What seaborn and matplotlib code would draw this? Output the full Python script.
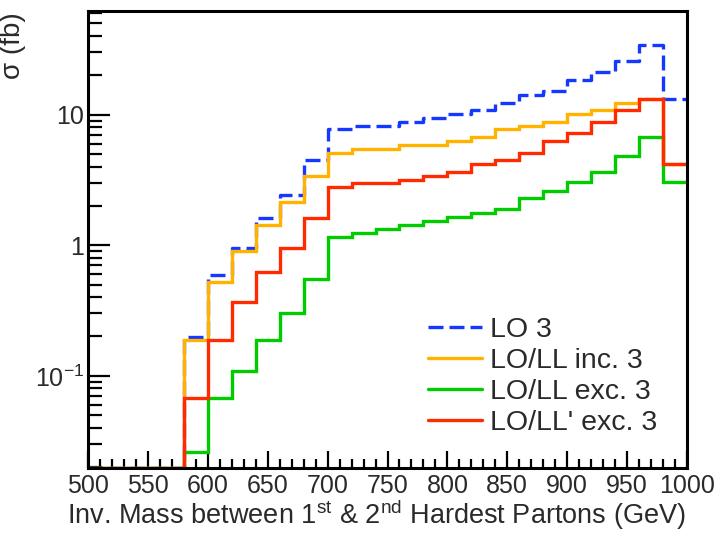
import numpy as np
import pandas as pd
import matplotlib
matplotlib.use("Agg")
import matplotlib.pyplot as plt
import seaborn as sns
from matplotlib.ticker import LogLocator, FixedLocator, FixedFormatter, MultipleLocator

# ---- data (bin width 20 GeV, 500..1000) ----
bin_edges = list(range(500, 1001, 20))
lo3 = [0, 0, 0, 0, 0.199, 0.59, 0.95, 1.61, 2.43, 4.48, 7.7, 8.2, 8.2, 8.8, 9.44,
       10.1, 10.9, 12.3, 14.2, 15.2, 18.4, 21.2, 25.9, 34.2, 13.2]
loll_inc3 = [0, 0, 0, 0, 0.187, 0.518, 0.895, 1.42, 2.13, 3.40, 5.09, 5.46, 5.46, 5.86, 5.86,
             6.29, 6.75, 7.73, 8.2, 8.8, 10.1, 10.9, 12.3, 13.2, 4.19]
loll_exc3 = [0, 0, 0, 0, 0.026, 0.068, 0.108, 0.187, 0.30, 0.55, 1.16, 1.24, 1.33, 1.42, 1.52,
             1.63, 1.75, 1.88, 2.28, 2.60, 3.02, 3.64, 4.8, 6.75, 3.02]
lollp_exc3 = [0, 0, 0, 0, 0.068, 0.187, 0.368, 0.625, 0.95, 1.61, 2.79, 3.0, 3.0, 3.18, 3.40,
              3.64, 4.19, 4.5, 5.09, 6.29, 7.24, 8.8, 10.9, 13.2, 4.19]
labels = ["LO 3", "LO/LL inc. 3", "LO/LL exc. 3", "LO/LL' exc. 3"]
xticks = [500, 550, 600, 650, 700, 750, 800, 850, 900, 950, 1000]
yticks = [0.1, 1, 10]
yticklabels = ["10$^{-1}$", "1", "10"]

YMIN, YMAX = 0.0197, 62

sns.set_style("ticks")
plt.rcParams["font.family"] = ["Liberation Sans", "DejaVu Sans"]
plt.rcParams["mathtext.fontset"] = "custom"
plt.rcParams["mathtext.rm"] = "Liberation Sans"
plt.rcParams["mathtext.it"] = "Liberation Sans"

fig = plt.figure(figsize=(7.2, 5.34), dpi=100)
ax = fig.add_axes([88/720, 1-468/534, (687-88)/720, (468-11)/534])

txt = "#2a2a2a"
series = [
    (lo3, "#1438FF", (0, (4.5, 1.8))),
    (loll_inc3, "#FFB300", "-"),
    (loll_exc3, "#00CC00", "-"),
    (lollp_exc3, "#FF2A00", "-"),
]
edges = np.array(bin_edges, dtype=float)
for (vals, col, ls), lab in zip(series, labels):
    v = np.array(vals, dtype=float)
    v = np.where(v > 0, v, YMIN)
    y = np.append(v, v[-1])
    df = pd.DataFrame({"x": edges, "y": y})
    sns.lineplot(data=df, x="x", y="y", ax=ax, color=col, linestyle=ls,
                 linewidth=2.4, drawstyle="steps-post", estimator=None,
                 label=lab, solid_joinstyle="miter")

ax.set_yscale("log")
ax.set_xlim(500, 1000)
ax.set_ylim(YMIN, YMAX)

ax.xaxis.set_major_locator(FixedLocator(xticks))
ax.xaxis.set_minor_locator(MultipleLocator(10))
ax.yaxis.set_major_locator(FixedLocator(yticks))
ax.yaxis.set_major_formatter(FixedFormatter(yticklabels))
ax.yaxis.set_minor_locator(LogLocator(base=10, subs=np.arange(2, 10)))
ax.yaxis.set_minor_formatter(FixedFormatter([]))

ax.tick_params(axis="both", which="both", direction="in", top=False, right=False,
               color="black", labelcolor=txt, labelsize=18)
ax.tick_params(axis="x", which="major", length=12, width=1.6, pad=4)
ax.tick_params(axis="x", which="minor", length=6.5, width=1.6)
ax.tick_params(axis="y", which="major", length=16, width=1.6, pad=3)
ax.tick_params(axis="y", which="minor", length=10, width=1.6)
for s in ax.spines.values():
    s.set_linewidth(2.2)
    s.set_color("black")

ax.set_xlabel("Inv. Mass between 1$^{st}$ & 2$^{nd}$ Hardest Partons (GeV)",
              fontsize=19.5, color=txt, loc="right")
ax.xaxis.label.set_va("center")
ax.xaxis.set_label_coords(0.997, -0.103)
ax.set_ylabel("σ (fb)", fontsize=20, color=txt, loc="top")
ax.yaxis.set_label_coords(-0.103, 0.998)

leg = ax.legend(loc="center left", bbox_to_anchor=(0.568, 0.200), frameon=False,
                fontsize=20.5, handlelength=1.9, handletextpad=0.28, labelspacing=0.18,
                borderpad=0, borderaxespad=0)
for t in leg.get_texts():
    t.set_color(txt)

fig.savefig("out.png", dpi=100)
